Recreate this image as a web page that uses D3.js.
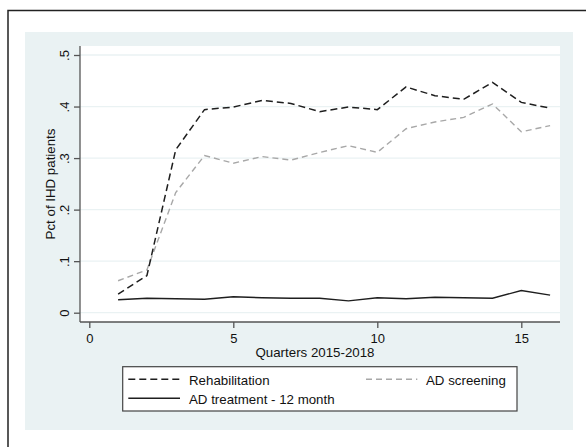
<!DOCTYPE html>
<html>
<head>
<meta charset="utf-8">
<script src="https://cdn.jsdelivr.net/npm/d3@7"></script>
<style>
	body{margin:0;background:#fff;}
	text{font-family:"Liberation Sans",Arial,sans-serif;fill:#111;}
</style>
</head>
<body>
<div class="canvas"></div>
<script>
//data
var quarters = [1,2,3,4,5,6,7,8,9,10,11,12,13,14,15,16];
var rehab = [0.036,0.072,0.316,0.394,0.399,0.412,0.406,0.390,0.399,0.394,0.438,0.421,0.414,0.447,0.408,0.397];
var adScreening = [0.062,0.083,0.233,0.305,0.290,0.303,0.296,0.311,0.324,0.311,0.357,0.370,0.379,0.405,0.351,0.363];
var adTreatment = [0.025,0.028,0.027,0.026,0.031,0.029,0.028,0.028,0.023,0.029,0.027,0.030,0.029,0.028,0.043,0.034];
var xTicks = [0,5,10,15];
var yTicks = [0,0.1,0.2,0.3,0.4,0.5];
var yTickLabels = ['0','.1','.2','.3','.4','.5'];

var W = 586, H = 447;

var svg = d3.select('.canvas')
	.append('svg')
	.attr('width',W)
	.attr('height',H);

//outer frame, only left and top edges are inside the picture
svg.append('rect')
	.attr('x',8).attr('y',10.5)
	.attr('width',700).attr('height',600)
	.style('fill','#fff')
	.style('stroke','#222')
	.style('stroke-width',1.5);

//stata light blue graph region
svg.append('rect')
	.attr('x',25).attr('y',32)
	.attr('width',548).attr('height',398)
	.style('fill','#eaf2f3');

//plot region
var pl = {l:80, r:560, t:46, b:322};
svg.append('rect')
	.attr('x',pl.l).attr('y',pl.t)
	.attr('width',pl.r-pl.l).attr('height',pl.b-pl.t)
	.style('fill','#fff');

var x = d3.scaleLinear().domain([0,16]).range([89.3,550.1]);
var y = d3.scaleLinear().domain([0,0.5]).range([312.7,55]);

//grid lines
svg.selectAll('.grid')
	.data(yTicks)
	.enter()
	.append('line')
	.attr('class','grid')
	.attr('x1',pl.l).attr('x2',pl.r)
	.attr('y1',function(d){return y(d);})
	.attr('y2',function(d){return y(d);})
	.style('stroke','#eaf2f3')
	.style('stroke-width',1.3);

//y axis
var yAxis = d3.axisLeft(y)
	.tickValues(yTicks)
	.tickSize(6)
	.tickPadding(0)
	.tickFormat(function(d,i){return yTickLabels[i];});
var gy = svg.append('g')
	.attr('transform','translate('+pl.l+',0)')
	.call(yAxis);
gy.select('.domain').attr('d','M0,'+pl.t+'V'+pl.b);
gy.selectAll('text').remove();
gy.selectAll('.tick')
	.append('text')
	.attr('transform','translate(-11,0) rotate(-90)')
	.attr('text-anchor','middle')
	.style('font-size','13px')
	.text(function(d,i){return yTickLabels[i];});

//x axis
var xAxis = d3.axisBottom(x)
	.tickValues(xTicks)
	.tickSize(6)
	.tickPadding(6);
var gx = svg.append('g')
	.attr('transform','translate(0,'+pl.b+')')
	.call(xAxis);
gx.select('.domain').attr('d','M'+pl.l+',0H'+pl.r);
gx.selectAll('text')
	.style('font-size','13px')
	.style('font-family','"Liberation Sans",Arial,sans-serif')
	.attr('fill','#111');

svg.selectAll('.domain, .tick line')
	.style('stroke','#555')
	.style('stroke-width',1.3);

//axis titles
svg.append('text')
	.attr('x',315).attr('y',357)
	.attr('text-anchor','middle')
	.style('font-size','13.3px')
	.text('Quarters 2015-2018');

svg.append('text')
	.attr('transform','translate(55,184) rotate(-90)')
	.attr('text-anchor','middle')
	.style('font-size','13.3px')
	.text('Pct of IHD patients');

//series
var series = [
	{name:'Rehabilitation', values:rehab, color:'#1e1e1e', dash:'7,4', width:1.5},
	{name:'AD screening', values:adScreening, color:'#a8a8a8', dash:'6,4', width:1.4},
	{name:'AD treatment - 12 month', values:adTreatment, color:'#1e1e1e', dash:null, width:1.4}
];

var line = d3.line()
	.x(function(d){return x(d[0]);})
	.y(function(d){return y(d[1]);});

series.slice().reverse().forEach(function(s){
	svg.append('path')
		.datum(d3.zip(quarters, s.values))
		.attr('d',line)
		.style('fill','none')
		.style('stroke',s.color)
		.style('stroke-width',s.width)
		.style('stroke-dasharray',s.dash);
});

//legend
svg.append('rect')
	.attr('x',122.7).attr('y',366.7)
	.attr('width',394.3).attr('height',44.3)
	.style('fill','#fff')
	.style('stroke','#444')
	.style('stroke-width',1.2);

var legPos = [
	{x1:128.3, x2:180, tx:189, ly:379.3, ty:385},
	{x1:366, x2:417.3, tx:426, ly:379.3, ty:385},
	{x1:128.3, x2:180, tx:189, ly:398.3, ty:403.5}
];

series.forEach(function(s,i){
	var p = legPos[i];
	svg.append('line')
		.attr('x1',p.x1).attr('x2',p.x2)
		.attr('y1',p.ly).attr('y2',p.ly)
		.style('stroke',s.color)
		.style('stroke-width',s.width)
		.style('stroke-dasharray',s.dash);
	svg.append('text')
		.attr('x',p.tx).attr('y',p.ty)
		.style('font-size','13.3px')
		.text(s.name);
});
</script>
</body>
</html>
